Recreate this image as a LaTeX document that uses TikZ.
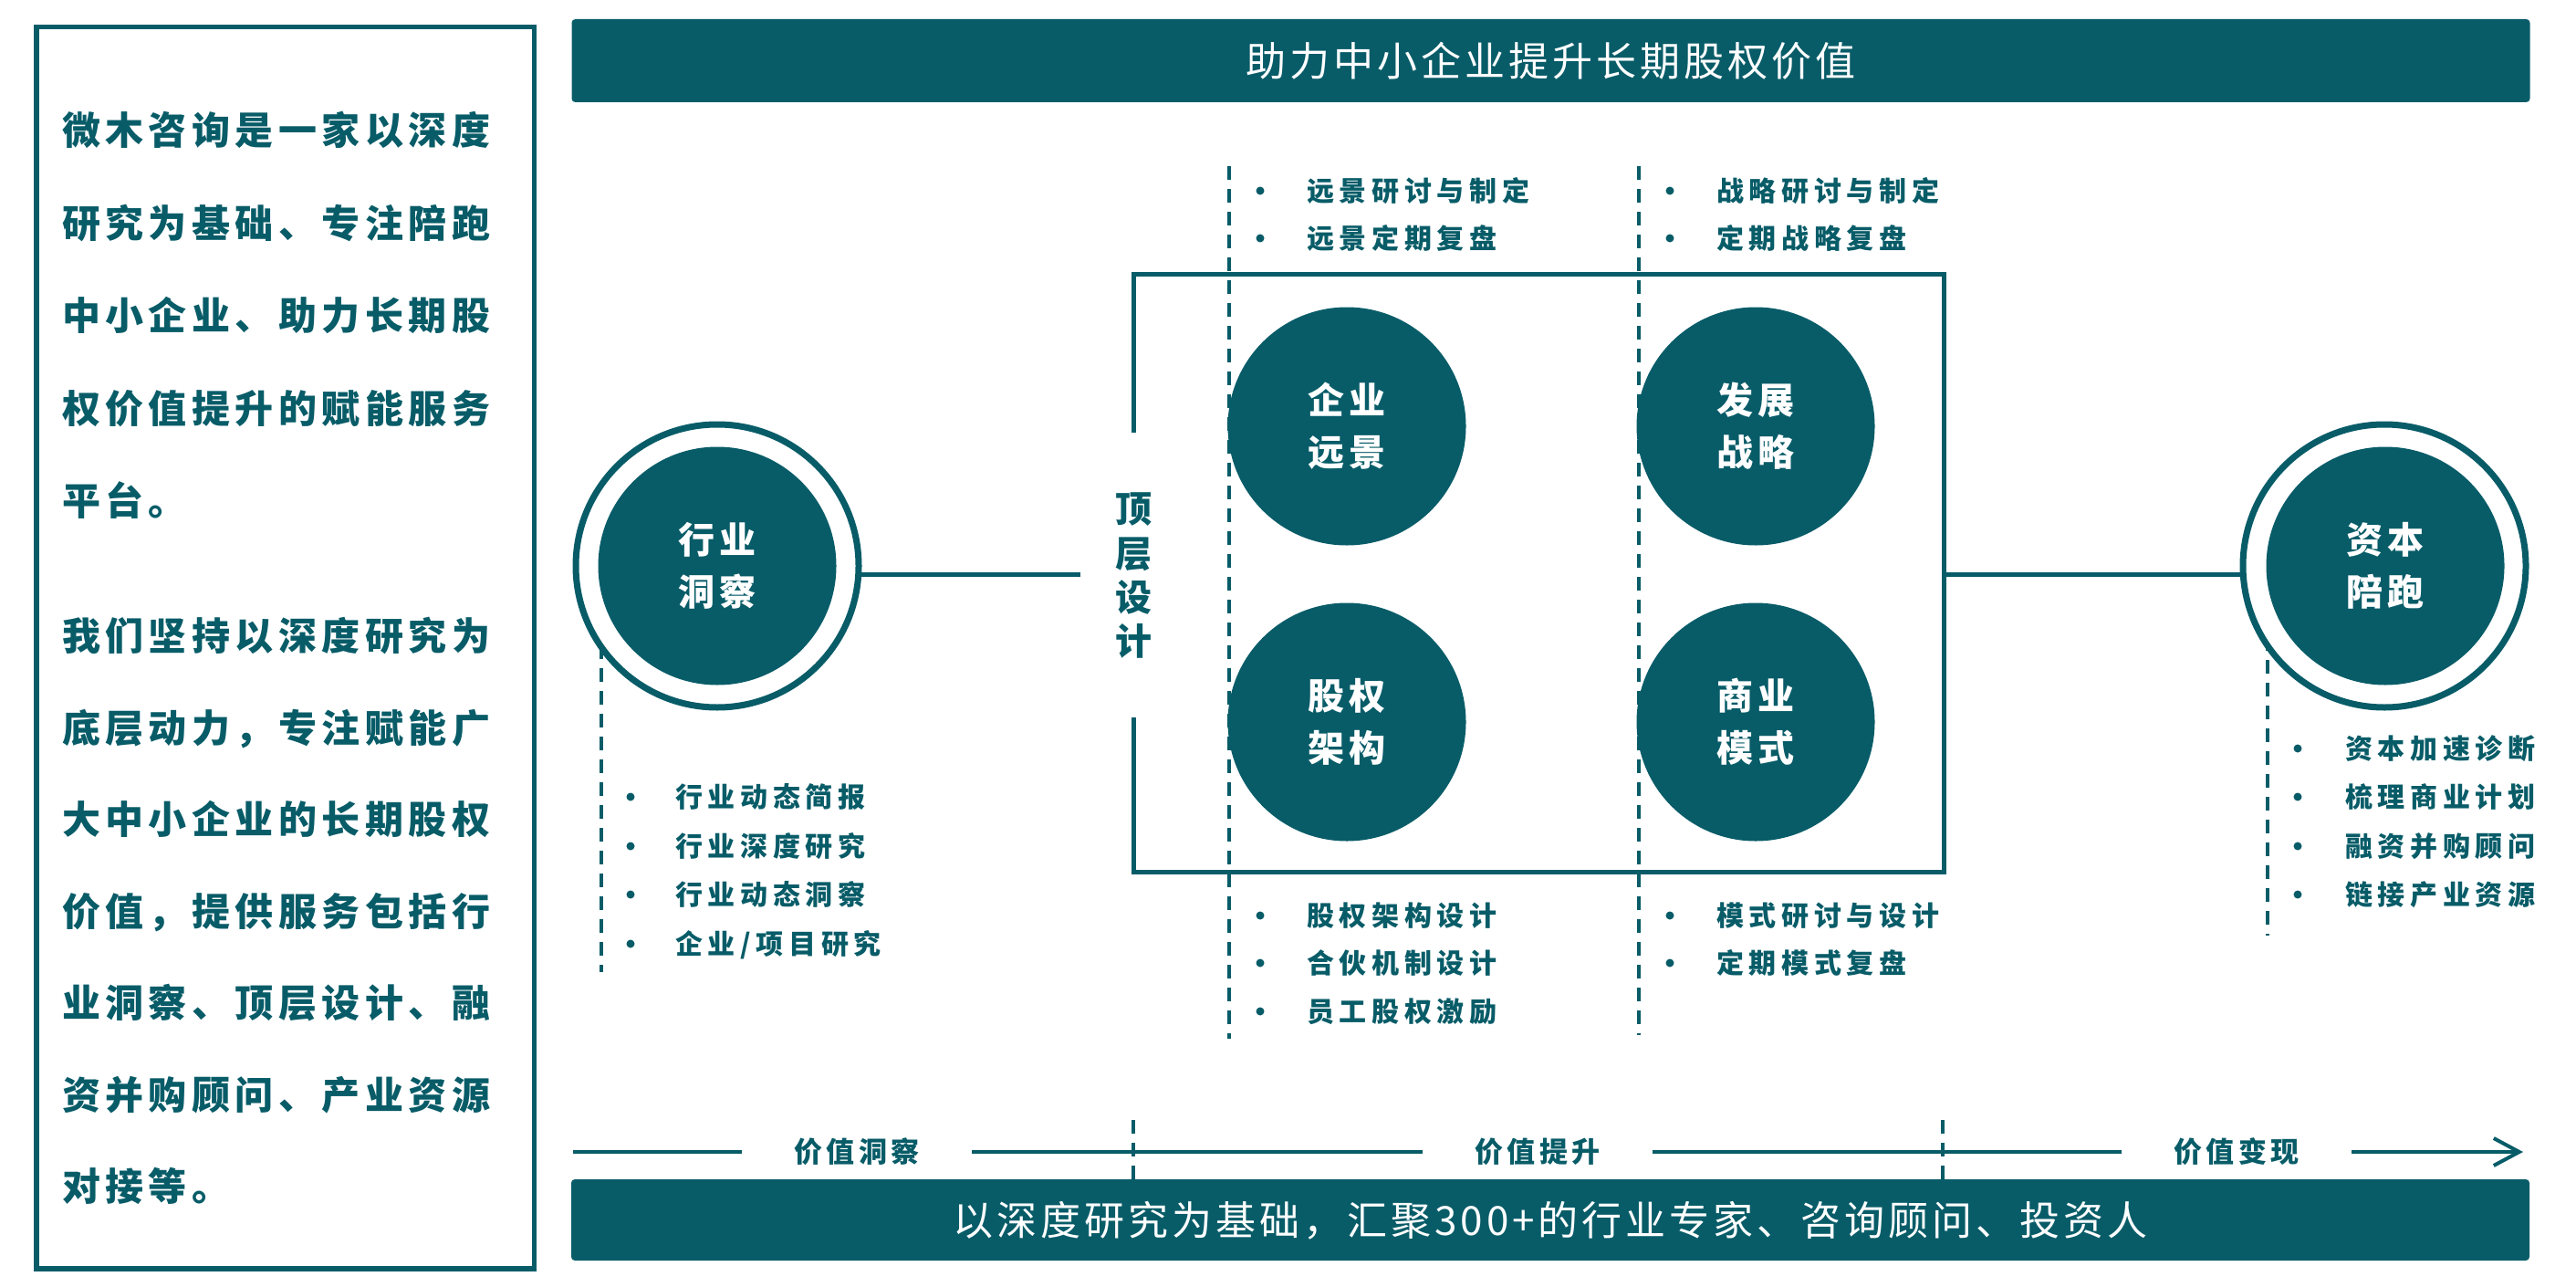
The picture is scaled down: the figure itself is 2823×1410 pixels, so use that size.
\documentclass[tikz,border=0pt]{standalone}
\usepackage{fontspec}
\newfontfamily\cjk{Noto Sans CJK SC}
\usetikzlibrary{arrows.meta,backgrounds}
\definecolor{tealc}{RGB}{8,92,104}
\newcommand\bitem[5]{%
  \node[bdot] (#1d) at (#2,#4) {};
  \node[btext] (#1) at (#3,#4) {#5};}
\begin{document}
\begin{tikzpicture}[x=1pt,y=-1pt,
  every node/.style={inner sep=0pt,outer sep=0pt},
  cjkh/.style={text height=#1*0.88pt,text depth=#1*0.12pt},
  para/.style={anchor=west,text=tealc,cjkh=42,font=\cjk\bfseries\fontsize{42}{50}\selectfont\addfontfeature{LetterSpace=13}},
  banner/.style={fill=tealc,rounded corners=4pt,text=white,minimum width=2146pt,cjkh=44,font=\cjk\fontsize{44}{50}\selectfont\addfontfeature{LetterSpace=9}},
  ring/.style={circle,draw=tealc,line width=7pt,fill=white,minimum size=310pt},
  disc/.style={circle,fill=tealc,minimum size=261pt,text=white,align=center,font=\cjk\bfseries\fontsize{40}{57}\selectfont\addfontfeature{LetterSpace=11}},
  vtext/.style={text=tealc,cjkh=40,font=\cjk\bfseries\fontsize{40}{48}\selectfont},
  bdot/.style={circle,fill=tealc,minimum size=9pt},
  btext/.style={anchor=west,text=tealc,cjkh=30,font=\cjk\bfseries\fontsize{30}{36}\selectfont\addfontfeature{LetterSpace=19}},
  lab/.style={fill=white,minimum width=252pt,minimum height=40pt,text=tealc,cjkh=31,font=\cjk\bfseries\fontsize{31}{36}\selectfont\addfontfeature{LetterSpace=14}},
  conn/.style={draw=tealc,line width=5pt},
  dline/.style={draw=tealc,line width=4pt,dash pattern=on 15pt off 10pt},
]
\useasboundingbox (0,0) rectangle (2823,1410);
\begin{scope}[on background layer]
  \fill[white] (0,0) rectangle (2823,1410);
\end{scope}

% left description panel
\draw[tealc,line width=5.5pt] (40,29.5) rectangle (585.5,1390);
\foreach \t/\y [count=\i] in {%
  微木咨询是一家以深度/143,
  研究为基础、专注陪跑/244.5,
  中小企业、助力长期股/346,
  权价值提升的赋能服务/447.5,
  平台。/549,
  我们坚持以深度研究为/697,
  底层动力，专注赋能广/797.5,
  大中小企业的长期股权/898,
  价值，提供服务包括行/998.5,
  业洞察、顶层设计、融/1099,
  资并购顾问、产业资源/1199.5,
  对接等。/1300}
  \node[para] (p\i) at (68,\y) {\t};

% banners
\node[banner,minimum height=91pt] (topban) at (1699.5,66.5) {助力中小企业提升长期股权价值};
\node[banner,minimum height=89pt] (botban) at (1699,1336.5) {以深度研究为基础，汇聚300+的行业专家、咨询顾问、投资人};

% value arrow
\coordinate (aL) at (628,1262);
\coordinate (aR) at (2765,1262);
\draw[conn,line width=4pt,-{Straight Barb[length=28pt,width=30pt]}] (aL) -- (aR);
\coordinate (k1a) at (1242,1227); \coordinate (k1b) at (1242,1292);
\coordinate (k2a) at (2129,1227); \coordinate (k2b) at (2129,1292);
\draw[dline] (k1a) -- (k1b);
\draw[dline] (k2a) -- (k2b);
\node[lab] (v1) at (939,1262) {价值洞察};
\node[lab] (v2) at (1685,1262) {价值提升};
\node[lab] (v3) at (2451,1262) {价值变现};

% side rings
\node[ring] (indR) at (786,620) {};
\node[disc] (ind) at (786,620) {行业\\洞察};
\node[ring] (capR) at (2613,620) {};
\node[disc] (cap) at (2614,620) {资本\\陪跑};

% central circles
\node[disc] (vis) at (1476,467) {企业\\远景};
\node[disc] (str) at (1924,467) {发展\\战略};
\node[disc] (eq) at (1476,791) {股权\\架构};
\node[disc] (biz) at (1924,791) {商业\\模式};

% vertical label
\foreach \c/\y [count=\i] in {顶/557,层/606,设/654,计/702}
  \node[vtext] (tc\i) at (1242,\y) {\c};

% bullet lists
\bitem{a1}{691}{740}{873}{行业动态简报}
\bitem{a2}{691}{740}{927}{行业深度研究}
\bitem{a3}{691}{740}{980}{行业动态洞察}
\bitem{a4}{691}{740}{1034}{企业/项目研究}
\bitem{b1}{1381}{1432}{209}{远景研讨与制定}
\bitem{b2}{1381}{1432}{261}{远景定期复盘}
\bitem{c1}{1830}{1881}{209}{战略研讨与制定}
\bitem{c2}{1830}{1881}{261}{定期战略复盘}
\bitem{d1}{1381}{1432}{1003}{股权架构设计}
\bitem{d2}{1381}{1432}{1055}{合伙机制设计}
\bitem{d3}{1381}{1432}{1108}{员工股权激励}
\bitem{e1}{1830}{1881}{1003}{模式研讨与设计}
\bitem{e2}{1830}{1881}{1055}{定期模式复盘}
\bitem{f1}{2518}{2570}{820}{资本加速诊断}
\bitem{f2}{2518}{2570}{873}{梳理商业计划}
\bitem{f3}{2518}{2570}{927}{融资并购顾问}
\bitem{f4}{2518}{2570}{980}{链接产业资源}

% connectors and frame
\coordinate (lend) at (1184,629);
\coordinate (fr) at (2130,629);
\begin{scope}[on background layer]
  \draw[conn] (indR.east |- lend) -- (lend);
  \draw[conn] (fr) -- (capR.west |- fr);
  \draw[conn,line cap=rect] (1242,471) -- (1242,300) -- (2130,300) -- (2130,955) -- (1242,955) -- (1242,788);
  \draw[dline] (1347,182) -- (1347,1138);
  \draw[dline] (1796,182) -- (1796,1134);
  \draw[dline] (659,657) -- (659,1065);
  \draw[dline] (2485,648) -- (2485,1025);
\end{scope}
\end{tikzpicture}
\end{document}
